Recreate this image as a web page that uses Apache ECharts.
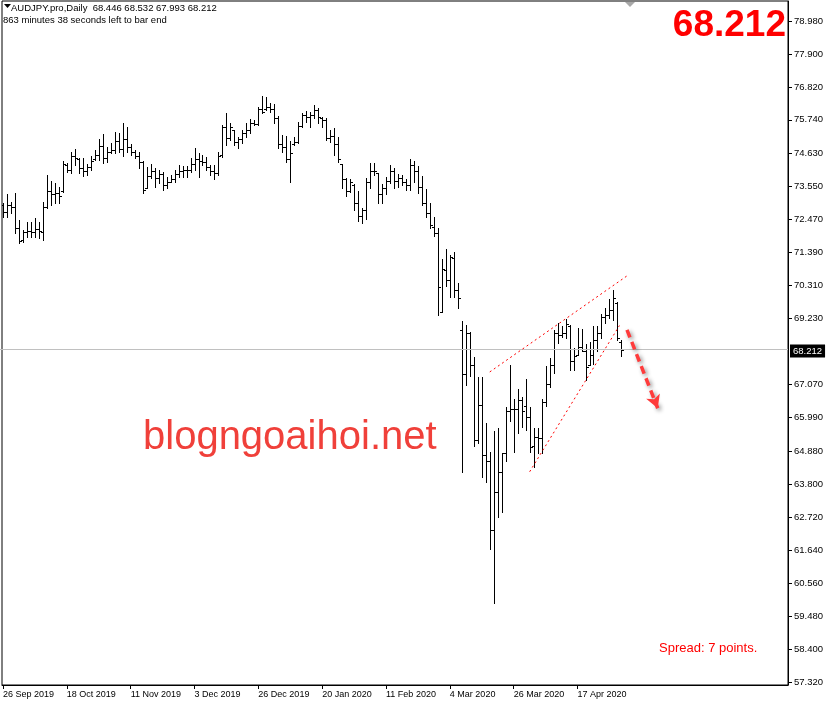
<!DOCTYPE html>
<html><head><meta charset="utf-8">
<script src="https://cdn.jsdelivr.net/npm/echarts@6/dist/echarts.min.js"></script>
<style>html,body{margin:0;padding:0;background:#fff}#c{width:829px;height:706px}</style>
</head><body><div id="c"></div>
<script>
const dayGroups = [
 ["Sep 2019",[26,27,30]],
 ["Oct 2019",[1,2,3,4,7,8,9,10,11,14,15,16,17,18,21,22,23,24,25,28,29,30,31]],
 ["Nov 2019",[1,4,5,6,7,8,11,12,13,14,15,18,19,20,21,22,25,26,27,28,29]],
 ["Dec 2019",[2,3,4,5,6,9,10,11,12,13,16,17,18,19,20,23,24,26,27,30,31]],
 ["Jan 2020",[2,3,6,7,8,9,10,13,14,15,16,17,20,21,22,23,24,27,28,29,30,31]],
 ["Feb 2020",[3,4,5,6,7,10,11,12,13,14,17,18,19,20,21,24,25,26,27,28]],
 ["Mar 2020",[2,3,4,5,6,9,10,11,12,13,16,17,18,19,20,23,24,25,26,27,30,31]],
 ["Apr 2020",[1,2,3,6,7,8,9,10,13,14,15,16,17,20,21,22,23,24,27,28,29,30]],
 ["May 2020",[1,4]]
];
const dates = [];
dayGroups.forEach(g => g[1].forEach(d => dates.push(d + " " + g[0])));

const open = [72.95,72.73,72.95,72.90,72.20,71.80,72.05,72.10,72.05,72.15,
72.05,72.90,73.40,73.30,73.35,73.40,74.25,74.10,74.55,74.45,
74.15,74.05,74.20,74.45,74.60,74.90,74.50,74.70,74.75,75.05,
74.80,75.10,74.85,74.70,74.55,74.35,73.50,73.90,74.05,73.85,
73.95,73.60,73.72,73.80,73.95,74.05,74.10,74.10,74.30,74.45,
74.40,74.35,74.20,74.05,74.00,74.60,75.50,75.15,75.40,75.00,
75.10,75.30,75.40,75.65,75.60,76.10,76.10,76.15,76.10,75.80,
74.95,74.85,74.45,74.95,75.00,75.55,75.90,75.85,75.90,76.05,
75.80,75.75,75.15,75.20,74.95,74.30,73.80,73.40,73.60,73.00,
72.60,72.80,73.70,74.05,73.99,73.30,73.50,73.75,74.05,73.75,
73.85,73.70,73.60,74.25,74.05,73.55,73.00,72.70,72.24,72.03,
69.46,70.82,70.50,71.20,70.15,68.86,67.40,68.75,67.70,65.25,
66.40,64.75,64.55,62.30,63.54,64.20,64.82,66.20,66.25,66.25,
66.55,66.35,66.00,65.05,65.35,65.33,66.50,67.10,67.70,68.75,
68.70,68.75,69.00,67.85,68.05,68.30,68.15,67.70,68.05,68.52,
68.75,69.29,69.35,69.50,69.75,68.446];
const high = [73.01,73.31,73.06,73.33,72.46,72.13,72.40,72.40,72.51,72.40,
73.06,73.93,73.75,73.66,73.55,74.39,74.32,74.70,74.78,74.48,
74.48,74.29,74.56,74.75,75.10,75.27,74.86,74.97,75.35,75.30,
75.63,75.50,74.94,74.75,74.70,74.39,74.21,74.29,74.15,74.10,
74.04,73.88,73.93,74.10,74.26,74.23,74.23,74.48,74.81,74.64,
74.59,74.53,74.26,74.26,74.70,75.57,75.96,75.63,75.41,75.19,
75.41,75.63,75.76,75.72,76.17,76.52,76.50,76.28,76.26,75.87,
75.25,75.21,75.05,75.19,75.68,75.98,76.04,76.01,76.23,76.12,
75.85,75.79,75.41,75.46,75.17,74.30,73.83,73.79,73.64,73.41,
72.86,73.83,74.34,74.34,73.99,73.64,73.88,74.26,74.15,73.96,
73.93,73.79,74.45,74.40,74.23,73.90,73.48,73.01,72.57,72.19,
71.17,71.50,71.31,71.42,70.38,69.16,69.02,68.80,67.96,67.30,
67.30,65.82,64.87,65.56,65.63,64.84,66.34,67.71,66.58,66.91,
66.65,67.24,66.34,65.63,65.63,66.58,67.67,67.93,68.85,69.07,
69.00,69.20,69.03,68.25,68.91,68.90,68.40,68.45,69.00,69.00,
69.39,69.57,69.87,70.18,69.78,68.532];
const low = [72.57,72.57,72.68,72.02,71.69,71.75,71.91,71.91,71.91,71.86,
71.80,72.84,72.95,73.01,73.01,73.39,74.04,73.99,74.26,73.99,
73.90,73.93,74.10,74.43,74.43,74.32,74.37,74.64,74.64,74.70,
74.54,74.70,74.59,74.48,74.15,73.33,73.50,73.82,73.55,73.66,
73.44,73.50,73.72,73.72,73.88,73.88,73.88,74.04,74.10,73.86,
74.26,74.10,73.93,73.79,73.93,74.51,74.92,75.08,74.92,74.81,
74.97,75.17,75.30,75.57,75.57,75.96,76.06,76.01,75.63,74.81,
74.70,74.37,73.72,74.92,74.97,75.52,75.68,75.52,75.79,75.63,
75.52,75.08,75.03,74.59,74.37,73.50,73.25,73.39,72.79,72.41,
72.37,72.48,73.50,73.93,73.01,73.01,73.31,73.66,73.50,73.55,
73.61,73.44,73.44,73.72,73.33,72.95,72.55,72.19,71.94,69.35,
69.46,70.28,69.95,69.95,69.57,64.21,67.05,67.35,65.05,65.14,
64.05,63.89,61.67,59.90,62.74,62.90,64.56,65.88,64.87,65.47,
65.69,65.58,64.87,64.38,64.81,64.81,66.37,66.98,67.46,68.42,
68.64,68.60,67.56,67.56,68.05,68.15,67.20,67.70,67.75,68.17,
68.58,69.10,69.24,69.18,68.53,67.993];
const close = [72.73,72.95,72.90,72.20,71.78,72.05,72.10,72.05,72.15,72.10,
72.90,73.40,73.30,73.35,73.25,74.30,74.10,74.55,74.50,74.15,
74.05,74.20,74.40,74.60,74.90,74.50,74.70,74.75,75.05,74.80,
75.10,74.85,74.70,74.55,74.35,73.45,73.90,74.05,73.85,73.95,
73.60,73.70,73.80,73.95,74.05,74.10,74.10,74.30,74.45,74.40,
74.35,74.20,74.05,74.00,74.55,75.50,75.15,75.50,75.00,75.10,
75.30,75.40,75.65,75.60,76.10,76.00,76.15,76.10,75.80,74.95,
74.85,74.45,74.65,75.00,75.55,75.90,75.85,75.90,76.05,75.85,
75.75,75.15,75.20,74.95,74.45,73.80,73.40,73.70,73.00,72.60,
72.80,73.70,74.05,74.05,73.30,73.50,73.75,74.05,73.75,73.85,
73.70,73.60,74.25,74.05,73.55,73.00,72.70,72.30,72.03,70.27,
70.85,70.49,71.25,70.15,69.90,67.40,68.75,67.70,65.25,66.40,
64.75,64.55,62.30,63.54,64.20,64.82,66.20,66.25,66.25,66.55,
66.20,66.00,65.03,65.35,65.33,66.50,67.10,67.70,68.75,68.70,
68.75,69.05,67.85,68.00,68.30,68.15,67.65,68.05,68.52,68.75,
69.29,69.35,69.50,69.90,68.60,68.212];

const yTicks = [78.980,77.900,76.820,75.740,74.630,73.550,72.470,71.390,70.310,69.230,
67.070,65.990,64.880,63.800,62.720,61.640,60.560,59.480,58.400,57.320];
const xTickIdx = [0,16,32,48,64,80,96,112,128,144];
const lastPrice = 68.212;
// trend lines: [barIndex, price]
const upperLine = [[122, 67.48],[156.75, 70.66]];
const lowerLine = [[132, 64.21],[154.5, 69.00]];
const arrowLine = [[156.4, 68.86],[164.1, 66.29]];
const countdown = [156.3, 67.98];

const data = open.map((o, i) => [i, o, high[i], low[i], close[i]]);

const chart = echarts.init(document.getElementById('c'), null, {renderer:'canvas'});
const F = '"Liberation Sans", Arial, sans-serif';
chart.setOption({
  animation: false,
  backgroundColor: '#fff',
  grid: {left: 0, right: 41, top: 1, bottom: 21, show: true, borderColor: '#000', borderWidth: 1, backgroundColor:'#fff'},
  xAxis: {
    type: 'value', min: -0.25, max: 196.75,
    axisLine: {show: true, onZero: false, lineStyle: {color: '#000', width: 1}},
    axisTick: {show: true, customValues: xTickIdx, length: 4, lineStyle: {color: '#000'}},
    axisLabel: {customValues: xTickIdx, formatter: v => dates[Math.round(v)] || '', align: 'left',
      margin: 5, color: '#000', fontFamily: F, fontSize: 9},
    splitLine: {show: false}
  },
  yAxis: {
    type: 'value', position: 'right', min: 57.222, max: 79.635, scale: true,
    axisLine: {show: true, onZero: false, lineStyle: {color: '#000', width: 1}},
    axisTick: {show: true, customValues: yTicks, length: 4, lineStyle: {color: '#000'}},
    axisLabel: {customValues: yTicks, formatter: v => v.toFixed(3), margin: 6, color: '#000',
      fontFamily: F, fontSize: 9.5},
    splitLine: {show: false}
  },
  series: [{
    type: 'custom',
    data: data,
    encode: {x: 0, y: [1,2,3,4]},
    clip: true,
    renderItem: function(params, api) {
      const i = api.value(0);
      const o = api.coord([i, api.value(1)]);
      const h = api.coord([i, api.value(2)]);
      const l = api.coord([i, api.value(3)]);
      const c = api.coord([i, api.value(4)]);
      const px = Math.round(h[0]);
      const x = px + 0.5;
      const yo = Math.round(o[1]) + 0.5, yc = Math.round(c[1]) + 0.5;
      const st = {stroke: '#000', lineWidth: 1};
      return {type: 'group', children: [
        {type: 'line', shape: {x1: x, y1: Math.round(h[1]), x2: x, y2: Math.round(l[1]) + 1}, style: st},
        {type: 'line', shape: {x1: px - 2, y1: yo, x2: px, y2: yo}, style: st},
        {type: 'line', shape: {x1: px + 1, y1: yc, x2: px + 3, y2: yc}, style: st}
      ]};
    },
    markLine: {
      silent: true, symbol: 'none', animation: false,
      data: [
        [{yAxis: lastPrice, x: 0, lineStyle: {color: '#c0c0c0', width: 1, type: 'solid'},
          label: {show: false}},
         {yAxis: lastPrice, x: 788}],
        [{coord: upperLine[0], lineStyle: {color: '#ff0000', width: 1, type: [2,3]}, label:{show:false}},
         {coord: upperLine[1]}],
        [{coord: lowerLine[0], lineStyle: {color: '#ff0000', width: 1, type: [2,3]}, label:{show:false}},
         {coord: lowerLine[1]}],
        [{coord: arrowLine[0], symbol: 'none',
          lineStyle: {color: '#ff3b3b', width: 3.5, type: [8,5], shadowBlur: 4,
            shadowColor: 'rgba(0,0,0,0.45)', shadowOffsetX: 2, shadowOffsetY: 2}, label:{show:false}},
         {coord: arrowLine[1], symbol: 'arrow', symbolSize: [11, 13]}]
      ]
    },
    markPoint: {
      silent: true, animation: false,
      data: [{coord: countdown, symbol: 'none', label: {show: true, formatter: '< 863:38',
        position: 'right', distance: 0, color: '#2020ff', fontFamily: F, fontSize: 12}}]
    }
  }],
  graphic: [
    {type: 'polygon', shape: {points: [[4,4],[11,4],[7.5,8]]}, style: {fill: '#000'}},
    {type: 'text', left: 11, top: 3, style: {text: 'AUDJPY.pro,Daily  68.446 68.532 67.993 68.212',
      fill: '#000', font: '9.5px ' + F}},
    {type: 'text', left: 3, top: 15, style: {text: '863 minutes 38 seconds left to bar end',
      fill: '#000', font: '9.5px ' + F}},
    {type: 'polygon', shape: {points: [[625,2],[635,2],[630,7]]}, style: {fill: '#a8a8a8'}},
    {type: 'text', x: 786, y: 26, style: {text: '68.212', fill: '#ff0000', font: 'bold 37px ' + F,
      textAlign: 'right', textVerticalAlign: 'middle'}},
    {type: 'text', x: 659, y: 648, style: {text: 'Spread: 7 points.', fill: '#ff0000', font: '13px ' + F,
      textVerticalAlign: 'middle'}},
    {type: 'text', x: 143, y: 438, style: {text: 'blogngoaihoi.net', fill: '#f0403a', font: '40px ' + F,
      textVerticalAlign: 'middle', stroke: '#ffffff', lineWidth: 1}},
    {type: 'text', x: 790, y: 351, style: {text: '68.212', fill: '#fff', font: '9.5px ' + F,
      backgroundColor: '#000', padding: [2,3,1,3], textVerticalAlign: 'middle'}}
  ]
});
</script></body></html>
